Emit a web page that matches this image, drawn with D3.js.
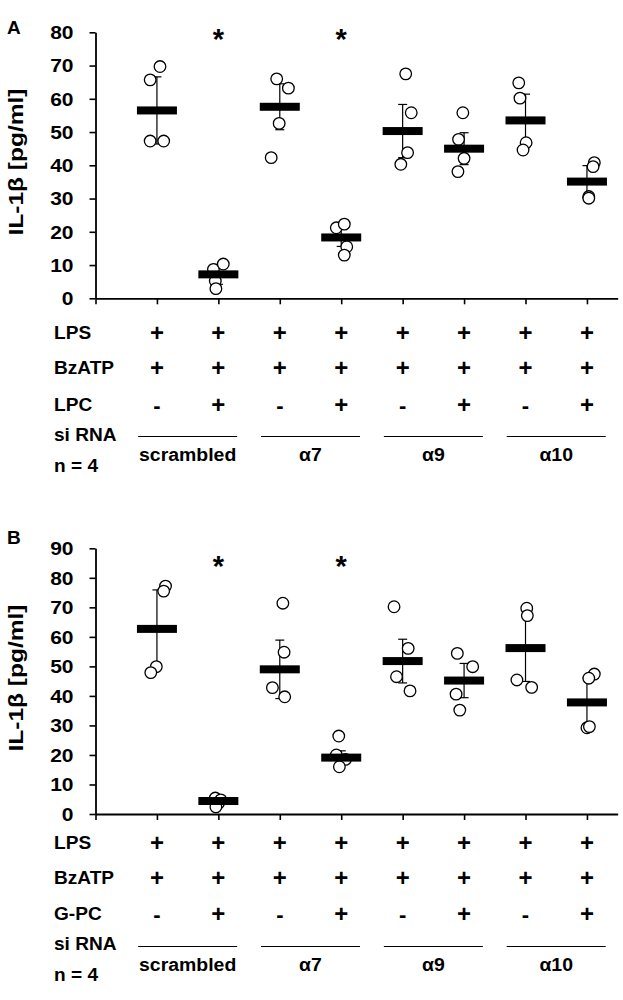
<!DOCTYPE html>
<html><head><meta charset="utf-8">
<script src="https://cdn.jsdelivr.net/npm/d3@7"></script>
<style>
body{margin:0;background:#fff;}
svg{display:block;font-family:"Liberation Sans",Arial,sans-serif;font-weight:bold;}
</style></head>
<body>
<svg id="chart" width="623" height="1000"></svg>
<script>
// ---------- data ----------
const categories = [1,2,3,4,5,6,7,8];
const groupLabels = ["scrambled","α7","α9","α10"];
const lpsSigns   = ["+","+","+","+","+","+","+","+"];
const bzatpSigns = ["+","+","+","+","+","+","+","+"];
const treatSigns = ["-","+","-","+","-","+","-","+"];
const rowLabelsA = ["LPS","BzATP","LPC","si RNA","n = 4"];
const rowLabelsB = ["LPS","BzATP","G-PC","si RNA","n = 4"];
const ticksA = [0,10,20,30,40,50,60,70,80];
const ticksB = [0,10,20,30,40,50,60,70,80,90];

const meansA = [56.5, 7.2, 57.6, 18.3, 50.3, 45.0, 53.5, 35.1];
const sdsA   = [10.1, 3.0, 6.9, 2.7, 8.0, 4.8, 7.9, 4.8];
const pointsA = [
  [69.7, 65.7, 47.3, 47.3],
  [8.7, 10.3, 5.2, 2.9],
  [66.0, 63.2, 52.6, 42.3],
  [21.2, 22.3, 15.5, 13.0],
  [67.5, 55.8, 43.8, 40.3],
  [55.8, 47.8, 42.1, 38.1],
  [64.8, 60.2, 46.8, 44.6],
  [40.8, 39.6, 30.6, 30.1]
];
const jitterA = [
  [0.05,-0.11,-0.11,0.11],
  [-0.08,0.08,-0.05,-0.04],
  [-0.05,0.14,-0.01,-0.14],
  [-0.08,0.05,0.09,0.05],
  [0.05,0.14,0.08,-0.03],
  [-0.02,-0.09,0,-0.10],
  [-0.11,-0.09,0.01,-0.04],
  [0.12,0.10,0.03,0.03]
];
const starsA = [2,4];

const meansB = [62.7, 4.4, 49.0, 19.1, 51.8, 45.2, 56.2, 37.8];
const sdsB   = [13.2, 1.2, 9.9, 2.3, 7.4, 5.8, 11.3, 8.2];
const pointsB = [
  [77.2, 75.5, 49.9, 47.9],
  [5.4, 4.8, 3.6, 2.4],
  [71.4, 54.8, 42.8, 39.7],
  [26.4, 20.0, 18.5, 16.0],
  [70.2, 56.1, 46.5, 41.7],
  [54.4, 49.9, 40.6, 35.2],
  [69.7, 67.2, 45.4, 42.9],
  [47.4, 46.0, 29.2, 29.6]
];
const jitterB = [
  [0.14,0.11,-0.01,-0.10],
  [-0.05,0.04,0,-0.04],
  [0.05,0.07,-0.12,0.08],
  [-0.04,-0.08,0.07,-0.03],
  [-0.14,0.09,-0.10,0.12],
  [-0.11,0.14,-0.13,-0.07],
  [0.02,0.03,-0.14,0.10],
  [0.12,0.03,0,0.04]
];
const starsB = [2,4];

// ---------- drawing ----------
const svg = d3.select("#chart");
const x = d3.scaleLinear().domain([0, 8.5]).range([95.5, 95.5 + 8.5*61.43]);

function stretch(sel, factor){
  sel.each(function(){
    const w = this.getComputedTextLength();
    d3.select(this).attr("textLength", w*factor).attr("lengthAdjust","spacingAndGlyphs");
  });
}

function drawPanel(cfg){
  const g = svg.append("g");
  const y = d3.scaleLinear().domain([0, cfg.yMax]).range([cfg.y0, cfg.yTop]);

  // panel letter
  g.append("text").attr("x", 7).attr("y", cfg.letterY).attr("font-size", 19).text(cfg.letter);

  // y axis
  const ya = g.append("g").attr("transform", `translate(${x(0)},0)`)
    .call(d3.axisLeft(y).tickValues(cfg.ticks).tickSize(6).tickSizeOuter(0).tickPadding(16));
  ya.select(".domain").attr("stroke","#000").attr("stroke-width",1.8);
  ya.selectAll(".tick line").attr("stroke","#000").attr("stroke-width",1.6);
  ya.selectAll(".tick text").attr("font-size",17.5).attr("font-family","Liberation Sans, Arial, sans-serif")
    .attr("font-weight","bold").attr("fill","#000").attr("dy","0.36em");
  stretch(ya.selectAll(".tick text"), 1.2);

  // x axis
  const xa = g.append("g").attr("transform", `translate(0,${cfg.y0})`)
    .call(d3.axisBottom(x).tickValues([0].concat(categories)).tickSize(6).tickSizeOuter(0).tickFormat(""));
  xa.select(".domain").attr("stroke","#000").attr("stroke-width",1.8);
  xa.selectAll(".tick line").attr("stroke","#000").attr("stroke-width",1.6);

  // y title
  g.append("text")
    .attr("transform", `translate(${cfg.titleX},${cfg.titleY}) rotate(-90)`)
    .attr("text-anchor","middle").attr("font-size",20)
    .attr("textLength",147).attr("lengthAdjust","spacingAndGlyphs")
    .text("IL-1β [pg/ml]");

  const data = categories.map((c,i)=>({c, mean:cfg.means[i], sd:cfg.sds[i], pts:cfg.points[i], jit:cfg.jitter[i]}));

  // error bars
  const eb = g.append("g").attr("stroke","#000").attr("stroke-width",1.2);
  data.forEach(d=>{
    eb.append("line").attr("x1",x(d.c)).attr("x2",x(d.c)).attr("y1",y(d.mean+d.sd)).attr("y2",y(d.mean-d.sd));
    [d.mean+d.sd, d.mean-d.sd].forEach(v=>{
      eb.append("line").attr("x1",x(d.c)-4.5).attr("x2",x(d.c)+4.5).attr("y1",y(v)).attr("y2",y(v));
    });
  });

  // points
  data.forEach(d=>{
    g.selectAll(null).data(d.pts.map((v,k)=>({v, j:d.jit[k]}))).enter().append("circle")
      .attr("cx", p=>x(d.c + p.j)).attr("cy", p=>y(p.v)).attr("r",5.8)
      .attr("fill","#fff").attr("stroke","#000").attr("stroke-width",1.3);
  });

  // mean bars
  g.selectAll(null).data(data).enter().append("rect")
    .attr("x", d=>x(d.c)-20).attr("width",40)
    .attr("y", d=>y(d.mean)-4).attr("height",8).attr("fill","#000");

  // stars
  g.selectAll(null).data(cfg.stars).enter().append("text")
    .attr("x", c=>x(c)).attr("y", cfg.starY).attr("text-anchor","middle")
    .attr("font-size",29).text("*");

  // condition rows
  const rows = [lpsSigns, bzatpSigns, treatSigns];
  cfg.rowLabels.forEach((lab,r)=>{
    g.append("text").attr("x",54).attr("y",cfg.rowY[r]).attr("dy","0.36em")
      .attr("font-size",18).text(lab).call(stretch,1.06);
  });
  rows.forEach((signs,r)=>{
    g.selectAll(null).data(signs).enter().append("text")
      .attr("x",(s,i)=>x(categories[i])).attr("y",cfg.rowY[r]).attr("dy", s=>s==="+"?"0.35em":"0.36em")
      .attr("text-anchor","middle").attr("font-size",s=>s==="+"?24:22).text(s=>s);
  });

  // group lines + labels
  groupLabels.forEach((lab,k)=>{
    const cx = (x(categories[2*k]) + x(categories[2*k+1]))/2;
    g.append("line").attr("x1",cx-49.5).attr("x2",cx+49.5)
      .attr("y1",cfg.lineY).attr("y2",cfg.lineY).attr("stroke","#000").attr("stroke-width",1.1);
    g.append("text").attr("x",cx).attr("y",cfg.groupY).attr("dy","0.36em")
      .attr("text-anchor","middle").attr("font-size",18).text(lab).call(stretch,1.08);
  });
}

drawPanel({
  letter:"A", letterY:33.5, yMax:80, ticks:ticksA, y0:298.3, yTop:32.3,
  titleX:22.5, titleY:162, means:meansA, sds:sdsA, points:pointsA, jitter:jitterA,
  stars:starsA, starY:49, rowLabels:rowLabelsA,
  rowY:[333,368,405,435,466], lineY:436.5, groupY:455
});
drawPanel({
  letter:"B", letterY:543.5, yMax:90, ticks:ticksB, y0:814, yTop:548.3,
  titleX:22.5, titleY:678, means:meansB, sds:sdsB, points:pointsB, jitter:jitterB,
  stars:starsB, starY:576, rowLabels:rowLabelsB,
  rowY:[843,878,914,944,975], lineY:946.5, groupY:965
});
</script>
</body></html>
